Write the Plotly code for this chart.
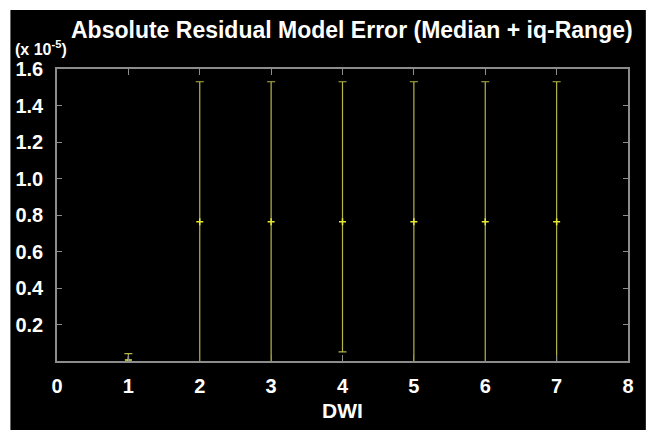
import plotly.graph_objects as go

# Data (values in units of 1e-5)
dwi = [1, 2, 3, 4, 5, 6, 7]
median = [0.005, 0.763, 0.763, 0.763, 0.763, 0.763, 0.763]
upper = [0.04, 1.53, 1.53, 1.53, 1.53, 1.53, 1.53]
lower = [-0.02, -0.1, -0.1, 0.05, -0.1, -0.1, -0.1]

x_ticks = [0, 1, 2, 3, 4, 5, 6, 7, 8]
y_ticks = [0.2, 0.4, 0.6, 0.8, 1.0, 1.2, 1.4, 1.6]
y_labels = ["0.2", "0.4", "0.6", "0.8", "1.0", "1.2", "1.4", "1.6"]

err_plus = [u - m for u, m in zip(upper, median)]
err_minus = [m - l for m, l in zip(median, lower)]

W, H = 646, 430
L, R, T, B = 57, 13, 69, 69
pw, ph = W - L - R, H - T - B

def px(x):
    return (x - L) / pw

def py(y):
    return (H - B - y) / ph

fig = go.Figure()
fig.add_trace(go.Scatter(
    x=dwi, y=median, mode="markers",
    marker=dict(symbol="cross-thin", size=5, color="#e8e830",
                line=dict(color="#e8e830", width=1.5)),
    error_y=dict(type="data", symmetric=False, array=err_plus, arrayminus=err_minus,
                 color="#b5b54a", thickness=1.2, width=4),
    showlegend=False, cliponaxis=True,
))

font = "Liberation Sans, Arial, sans-serif"
fig.update_layout(
    width=W, height=H,
    margin=dict(l=L, r=R, t=T, b=B, pad=0),
    paper_bgcolor="white",
    plot_bgcolor="black",
    font=dict(family=font, color="white"),
    shapes=[dict(type="rect", xref="paper", yref="paper", x0=px(10), x1=px(W + 5),
                 y0=py(H + 5), y1=py(10), fillcolor="black", line=dict(width=0),
                 layer="below")],
    annotations=[
        dict(text="<b>Absolute Residual Model Error (Median + iq-Range)</b>",
             xref="paper", yref="paper", x=px(69), y=py(30), xanchor="left",
             yanchor="middle", showarrow=False,
             font=dict(family=font, size=23, color="white")),
        dict(text="<b>(x 10<sup>-5</sup>)</b>",
             xref="paper", yref="paper", x=px(13), y=py(48), xanchor="left",
             yanchor="middle", showarrow=False,
             font=dict(family=font, size=16, color="white")),
        dict(text="<b>DWI</b>",
             xref="paper", yref="paper", x=0.5, y=py(410), xanchor="center",
             yanchor="middle", showarrow=False,
             font=dict(family=font, size=21, color="white")),
    ],
    xaxis=dict(range=[0, 8], tickvals=x_ticks, ticktext=[str(v) for v in x_ticks],
               showgrid=False, zeroline=False, showline=True, linecolor="#8c8c8c",
               linewidth=1.5, mirror="ticks", ticks="inside", ticklen=6,
               tickcolor="#8c8c8c", tickwidth=1,
               tickfont=dict(family=font, size=20, color="white", weight="bold"),
               ticklabelstandoff=6),
    yaxis=dict(range=[0, 1.6], tickvals=y_ticks, ticktext=y_labels,
               showgrid=False, zeroline=False, showline=True, linecolor="#8c8c8c",
               linewidth=1.5, mirror="ticks", ticks="inside", ticklen=5,
               tickcolor="#8c8c8c", tickwidth=1,
               tickfont=dict(family=font, size=20, color="white", weight="bold"),
               ticklabelstandoff=8),
)

fig.write_html("out.html")
